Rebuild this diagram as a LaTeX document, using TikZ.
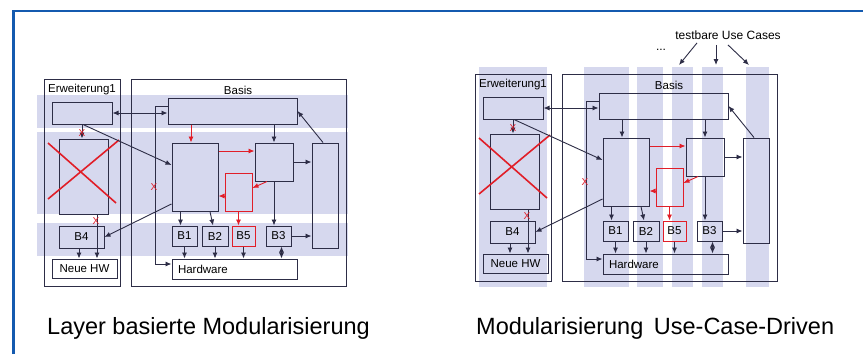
\documentclass[tikz,border=0pt]{standalone}
\usepackage{fontspec}
\setmainfont{Liberation Sans}
\usetikzlibrary{arrows.meta}
\definecolor{linie}{RGB}{45,45,70}
\definecolor{rot}{RGB}{225,30,40}
\definecolor{band}{RGB}{214,216,238}
\definecolor{rahmen}{RGB}{20,90,175}
\tikzset{
  box/.style={draw=linie, line width=1pt, inner sep=0pt, font=\fontsize{11.5}{12}\selectfont},
  pfeil/.style={draw=linie, line width=0.9pt, -{Latex[length=6pt, width=5pt]}},
  beide/.style={{Latex[length=6pt, width=5pt]}-{Latex[length=6pt, width=5pt]}},
  rotpfeil/.style={pfeil, draw=rot},
  kreuz/.style={text=rot, inner sep=0pt, font=\fontsize{10}{10}\selectfont},
  titel/.style={anchor=base west, inner sep=0pt, font=\fontsize{23.5}{28}\selectfont},
}
\begin{document}
\begin{tikzpicture}[x=1pt, y=-1pt]
    \fill[white] (0,0) rectangle (863,354);
    \useasboundingbox (0,0) rectangle (863,354);
    \draw[rahmen, line width=2.5pt] (13.5,354) -- (13.5,11) -- (863,11);

    % Schichten links, Use Cases rechts
    \foreach \ya/\yb in {95/128, 132/214, 223/256}
        \fill[band] (37,\ya) rectangle (348,\yb);
    \foreach \xa/\xb in {479/547, 584/629, 637/663, 672/693, 702/723, 746/769}
        \fill[band] (\xa,67) rectangle (\xb,287);

    \foreach \dx/\dy/\pfc/\pre in {0/0/rot/L, 431/-5/linie/R} {
    \begin{scope}[shift={(\dx,\dy)}, name prefix=\pre-]
        \node[box, minimum width=76pt, minimum height=207pt] (erw) at (82,182.5) {};
        \node[box, minimum width=215pt, minimum height=207pt] (basis) at (238.5,182.5) {};
        \node[box, draw=none] (erwtitel) at (82,90) {Erweiterung1};
        \node[box, draw=none] (basistitel) at (238,90) {Basis};
        \node[box, minimum width=60pt, minimum height=22pt] (e1) at (82,113) {};
        \node[box, minimum width=49pt, minimum height=75pt] (alt) at (83.5,176.5) {};
        \node[box, minimum width=45pt, minimum height=22pt] (b4) at (81.5,237) {B4};
        \node[box, minimum width=65pt, minimum height=19pt] (neuhw) at (84.5,268.5) {Neue HW};
        \node[box, minimum width=129pt, minimum height=26pt] (oben) at (232.5,111) {};
        \node[box, minimum width=46pt, minimum height=68pt] (kern) at (195,177) {};
        \node[box, minimum width=38pt, minimum height=38pt] (mitte) at (274,162) {};
        \node[box, draw=rot, minimum width=27pt, minimum height=38pt] (neu) at (238.5,192) {};
        \node[box, minimum width=26pt, minimum height=105pt] (rechts) at (325,195.5) {};
        \node[box, minimum width=25pt, minimum height=20pt] (b1) at (184.5,236) {B1};
        \node[box, minimum width=26pt, minimum height=20pt] (b2) at (215,236) {B2};
        \node[box, draw=rot, minimum width=23pt, minimum height=20pt] (b5) at (243.5,236) {B5};
        \node[box, minimum width=25pt, minimum height=20pt] (b3) at (278.5,236) {B3};
        \node[box, text width=113pt, inner xsep=6pt, minimum height=20pt] (hw) at (234.5,269) {Hardware};

        \draw[rot, line width=1.6pt] (48,143) -- (116,203) (119,140) -- (48,199);  % gestrichen

        \coordinate (busO) at (155,106);
        \coordinate (busU) at (155,264);
        \draw[pfeil] (oben.west |- busO) -- (busO) -- (busU) -- (hw.west |- busU);
            \node[kreuz] (x1) at (154,187) {X};
        \draw[pfeil, beide] (e1.east) -- (e1.east -| oben.west);
        \draw[pfeil] (e1.south) -- (e1.south |- alt.north);
            \node[kreuz] (x2) at (82,133) {X};
        \draw[pfeil] ([xshift=1]e1.south) -- ([yshift=12]kern.west);
        \draw[pfeil] ([xshift=13.5]alt.south) -- ([xshift=13.5]alt.south |- neuhw.north);
            \node[kreuz] (x3) at (96,221) {X};
        \draw[pfeil] ([xshift=-2.5]b4.south) -- ([xshift=-2.5]b4.south |- neuhw.north);
        \draw[pfeil] ([yshift=-27]kern.west) -- (b4.east);

        \draw[pfeil, draw=\pfc] ([xshift=-4]kern.north |- oben.south) -- ([xshift=-4]kern.north);
        \draw[pfeil] (mitte.north |- oben.south) -- (mitte.north);
        \draw[rotpfeil] ([yshift=11]mitte.west -| kern.east) -- ([yshift=11]mitte.west);
        \draw[pfeil] (mitte.east) -- (mitte.east -| rechts.west);
        \draw[pfeil] ([xshift=-2]rechts.north) -- (oben.east);
        \draw[rotpfeil] ([xshift=-7]mitte.south) -- ([yshift=4]neu.east);
        \draw[rotpfeil] ([yshift=-4]neu.west) -- ([yshift=-4]neu.west -| kern.east);
        \draw[rotpfeil] (neu.south) -- (neu.south |- b5.north);
        \draw[pfeil] ([xshift=-4]b1.north |- kern.south) -- ([xshift=-4]b1.north);
        \draw[pfeil] ([xshift=15]kern.south) -- ([xshift=-2]b2.north);
        \draw[pfeil] (mitte.south) -- (mitte.south |- b3.north);
        \draw[pfeil] (b3.east) -- (b3.east -| rechts.west);
        \foreach \b in {b1,b2,b5}
            \draw[pfeil] (\b.south) -- (\b.south |- hw.north);
        \draw[pfeil, beide] ([xshift=3]b3.south) -- ([xshift=3]b3.south |- hw.north);
    \end{scope}
    }

    \node[font=\fontsize{12}{12}\selectfont] (uc) at (728,35) {testbare Use Cases};
    \node[font=\fontsize{12}{12}\selectfont] (punkte) at (661,50) {...};
    \coordinate (uc1) at (679,65);
    \coordinate (uc2) at (716,65);
    \coordinate (uc3) at (749,65);
    \draw[pfeil] ([xshift=-31]uc.south) -- (uc1);
    \draw[pfeil] ([xshift=-12,yshift=-2]uc.south) -- (uc2);
    \draw[pfeil] ([yshift=-2]uc.south) -- (uc3);

    \node[titel] (t1) at (47,334) {Layer basierte Modularisierung};
    \node[titel] (t2) at (476,334) {Modularisierung\hspace{0.45em}Use-Case-Driven};
\end{tikzpicture}
\end{document}
